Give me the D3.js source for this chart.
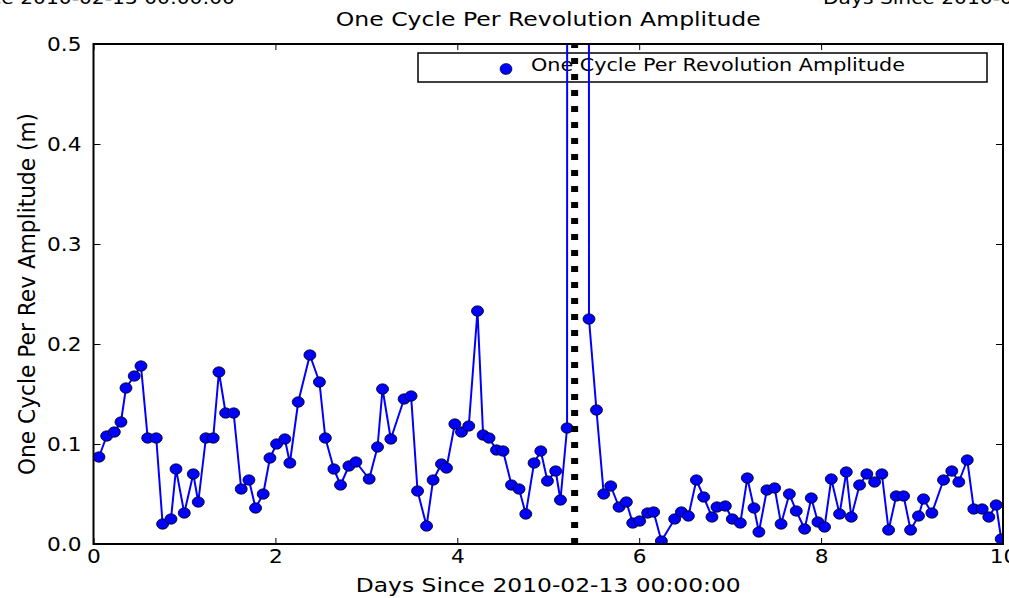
<!DOCTYPE html>
<html>
<head>
<meta charset="utf-8">
<script src="https://cdn.jsdelivr.net/npm/d3@7"></script>
<style>
  html, body { margin: 0; padding: 0; background: #fff; overflow: hidden; }
  text { font-family: "DejaVu Sans", sans-serif; fill: #000; }
</style>
</head>
<body>
<svg id="chart" width="1009" height="598"></svg>
<script>
// Sample times (days since 2010-02-13 00:00:00)
const days = [
  0.060, 0.145, 0.229, 0.302, 0.357, 0.448, 0.522, 0.596, 0.690, 0.760,
  0.852, 0.907, 0.998, 1.097, 1.152, 1.236, 1.316, 1.379, 1.453, 1.541,
  1.624, 1.709, 1.782, 1.866, 1.940, 2.013, 2.104, 2.159, 2.251, 2.379,
  2.484, 2.549, 2.643, 2.716, 2.808, 2.885, 3.031, 3.123, 3.178, 3.269,
  3.415, 3.492, 3.563, 3.662, 3.734, 3.826, 3.881, 3.973, 4.046, 4.126,
  4.222, 4.284, 4.349, 4.431, 4.503, 4.596, 4.679, 4.753, 4.844, 4.918,
  4.991, 5.082, 5.134, 5.207, 5.220, 5.437, 5.448, 5.530, 5.610, 5.687,
  5.778, 5.859, 5.929, 6.005, 6.093, 6.159, 6.244, 6.390, 6.464, 6.541,
  6.629, 6.709, 6.800, 6.855, 6.947, 7.024, 7.112, 7.189, 7.262, 7.316,
  7.404, 7.489, 7.560, 7.651, 7.727, 7.819, 7.892, 7.965, 8.038, 8.112,
  8.203, 8.277, 8.332, 8.423, 8.503, 8.588, 8.668, 8.742, 8.826, 8.907,
  8.984, 9.071, 9.126, 9.218, 9.346, 9.437, 9.514, 9.607, 9.679, 9.771,
  9.844, 9.925, 9.980
];

// One-cycle-per-revolution amplitude (m); two samples spike far above the axis range
const amplitude = [
  0.087, 0.108, 0.112, 0.122, 0.156, 0.168, 0.178, 0.106, 0.106, 0.020,
  0.025, 0.075, 0.031, 0.070, 0.042, 0.106, 0.106, 0.172, 0.131, 0.131,
  0.055, 0.064, 0.036, 0.050, 0.086, 0.100, 0.105, 0.081, 0.142, 0.189,
  0.162, 0.106, 0.075, 0.059, 0.078, 0.082, 0.065, 0.097, 0.155, 0.105,
  0.145, 0.148, 0.053, 0.018, 0.064, 0.080, 0.076, 0.120, 0.112, 0.118,
  0.233, 0.109, 0.106, 0.094, 0.093, 0.059, 0.055, 0.030, 0.081, 0.093,
  0.063, 0.073, 0.044, 0.116, 6.100, 5.200, 0.225, 0.134, 0.050, 0.058,
  0.037, 0.042, 0.021, 0.023, 0.031, 0.032, 0.003, 0.025, 0.032, 0.028,
  0.064, 0.047, 0.027, 0.037, 0.038, 0.025, 0.021, 0.066, 0.036, 0.012,
  0.054, 0.056, 0.020, 0.050, 0.033, 0.015, 0.046, 0.022, 0.017, 0.065,
  0.030, 0.072, 0.027, 0.059, 0.070, 0.062, 0.070, 0.014, 0.048, 0.048,
  0.014, 0.028, 0.045, 0.031, 0.064, 0.073, 0.062, 0.084, 0.035, 0.035,
  0.027, 0.039, 0.005
];

const xTicks = [0, 2, 4, 6, 8, 10];
const yTicks = [0.0, 0.1, 0.2, 0.3, 0.4, 0.5];
const eventDay = [5.29];

const titleText = "One Cycle Per Revolution Amplitude";
const xLabelText = "Days Since 2010-02-13 00:00:00";
const yLabelText = "One Cycle Per Rev Amplitude (m)";
const legendText = "One Cycle Per Revolution Amplitude";

const svg = d3.select("#chart");
const plotLeft = 93.5, plotRight = 1003, plotTop = 44, plotBottom = 544;

const x = d3.scaleLinear().domain([0, 10]).range([plotLeft, plotRight]);
const y = d3.scaleLinear().domain([0, 0.5]).range([plotBottom, plotTop]);

const points = days.map((d, i) => ({ d, v: amplitude[i] }));

// widen a text element to a given pixel length
function fit(sel, len) {
  sel.attr("textLength", len).attr("lengthAdjust", "spacingAndGlyphs");
}

svg.append("defs").append("clipPath").attr("id", "plotClip")
  .append("rect")
  .attr("x", plotLeft).attr("y", plotTop)
  .attr("width", plotRight - plotLeft).attr("height", plotBottom - plotTop);

// Axis labels of the neighbouring panels, cut by the top edge
svg.append("text").attr("x", -98).attr("y", 4).attr("font-size", 17)
  .text(xLabelText).call(fit, 333);
svg.append("text").attr("x", 823).attr("y", 4).attr("font-size", 17)
  .text(xLabelText).call(fit, 333);

// Title
svg.append("text").attr("x", (plotLeft + plotRight) / 2).attr("y", 26)
  .attr("text-anchor", "middle").attr("font-size", 19.5)
  .text(titleText).call(fit, 425);

// Ticks on all four sides, pointing inward
const tickStyle = g => {
  g.select(".domain").remove();
  g.selectAll(".tick line").attr("stroke", "#000").attr("stroke-width", 1);
  g.selectAll(".tick text").attr("font-size", 19).attr("fill", "#000")
    .attr("font-family", "DejaVu Sans, sans-serif");
};

const gx = svg.append("g").attr("transform", `translate(0,${plotBottom})`)
  .call(d3.axisBottom(x).tickValues(xTicks).tickSize(-6).tickPadding(6).tickFormat(d3.format("d")))
  .call(tickStyle);
svg.append("g").attr("transform", `translate(0,${plotTop})`)
  .call(d3.axisTop(x).tickValues(xTicks).tickSize(-6).tickFormat(""))
  .call(tickStyle);
const gy = svg.append("g").attr("transform", `translate(${plotLeft},0)`)
  .call(d3.axisLeft(y).tickValues(yTicks).tickSize(-7).tickPadding(12).tickFormat(d3.format(".1f")))
  .call(tickStyle);
svg.append("g").attr("transform", `translate(${plotRight},0)`)
  .call(d3.axisRight(y).tickValues(yTicks).tickSize(-7).tickFormat(""))
  .call(tickStyle);

[gx, gy].forEach(g => g.selectAll(".tick text").each(function () {
  const w = this.getComputedTextLength();
  d3.select(this).call(fit, w * 1.14);
}));

// Axis titles
svg.append("text").attr("x", (plotLeft + plotRight) / 2).attr("y", 592)
  .attr("text-anchor", "middle").attr("font-size", 19.5)
  .text(xLabelText).call(fit, 385);
svg.append("text")
  .attr("transform", "translate(35,294) scale(1.2,1) rotate(-90)")
  .attr("text-anchor", "middle").attr("font-size", 19.5)
  .text(yLabelText).call(fit, 362);

// Legend
const legend = svg.append("g");
legend.append("rect").attr("x", 418).attr("y", 53).attr("width", 569).attr("height", 29)
  .attr("fill", "#fff").attr("stroke", "#000").attr("stroke-width", 1.5);
legend.append("ellipse").attr("cx", 506).attr("cy", 69).attr("rx", 6).attr("ry", 5.5)
  .attr("fill", "#0000ff").attr("stroke", "#000").attr("stroke-width", 0.6);
legend.append("text").attr("x", 531).attr("y", 71).attr("font-size", 17.5)
  .text(legendText).call(fit, 374);

// Data
const plot = svg.append("g").attr("clip-path", "url(#plotClip)");

plot.append("path").datum(points)
  .attr("fill", "none").attr("stroke", "#0000ff").attr("stroke-width", 2)
  .attr("stroke-linejoin", "round")
  .attr("d", d3.line().x(p => x(p.d)).y(p => y(p.v)));

plot.selectAll("ellipse.pt").data(points).join("ellipse")
  .attr("class", "pt")
  .attr("cx", p => x(p.d)).attr("cy", p => y(p.v))
  .attr("rx", 6).attr("ry", 5.2)
  .attr("fill", "#0000ff").attr("stroke", "#000").attr("stroke-width", 0.8);

// Event marker: thick dotted vertical line, dashes start from the bottom
plot.selectAll("line.event").data(eventDay).join("line")
  .attr("class", "event")
  .attr("x1", d => x(d)).attr("x2", d => x(d))
  .attr("y1", y(0)).attr("y2", y(0.5))
  .attr("stroke", "#000").attr("stroke-width", 7)
  .attr("stroke-dasharray", "6,10");

// Frame
svg.append("rect").attr("x", plotLeft).attr("y", plotTop)
  .attr("width", plotRight - plotLeft).attr("height", plotBottom - plotTop)
  .attr("fill", "none").attr("stroke", "#000").attr("stroke-width", 2);
</script>
</body>
</html>
